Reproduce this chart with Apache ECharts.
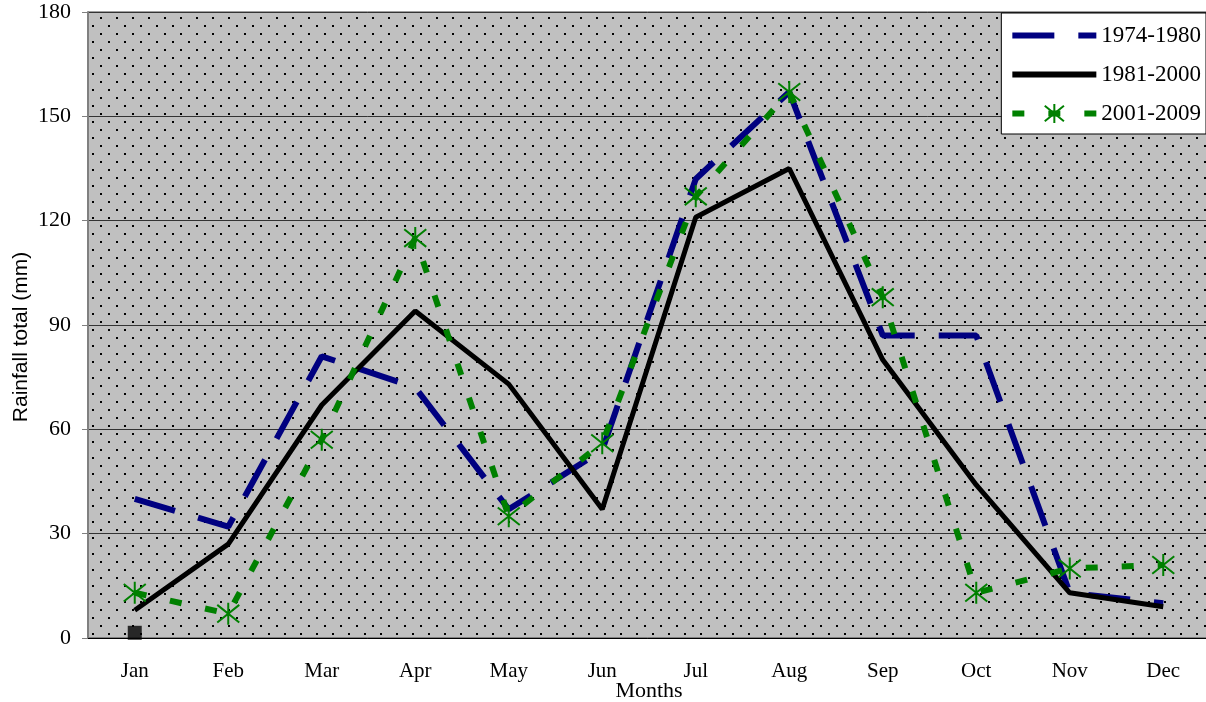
<!DOCTYPE html>
<html>
<head>
<meta charset="utf-8">
<script src="https://cdn.jsdelivr.net/npm/echarts@6/dist/echarts.min.js"></script>
<style>
  html, body { margin: 0; padding: 0; background: #fff; }
  #chart { width: 1206px; height: 702px; }
</style>
</head>
<body>
<div id="chart"></div>
<script>
const months = ["Jan", "Feb", "Mar", "Apr", "May", "Jun", "Jul", "Aug", "Sep", "Oct", "Nov", "Dec"];
const rain1974 = [40, 32, 81, 72, 37, 54, 132, 157, 87, 87, 13, 10];
const rain1981 = [8, 27, 67, 94, 73, 37, 121, 135, 80, 44, 13, 9];
const rain2001 = [13, 7, 57, 115, 35, 56, 127, 157, 98, 13, 20, 21];
const extraPoint = [1.5, null, null, null, null, null, null, null, null, null, null, null];

const serif = "Liberation Serif";
const starPath = "path://M0,-10L0,10M-8,-8L8,8M-8,8L8,-8";

// dotted plot area: grey with staggered black dots
function dotPattern() {
    const c = document.createElement("canvas");
    c.width = 16;
    c.height = 16;
    const ctx = c.getContext("2d");
    ctx.fillStyle = "#c0c0c0";
    ctx.fillRect(0, 0, 16, 16);
    ctx.fillStyle = "#000";
    ctx.fillRect(4, 1, 2, 2);
    ctx.fillRect(12, 9, 2, 2);
    return c;
}

const chart = echarts.init(document.getElementById("chart"));

chart.setOption({
    animation: false,
    grid: {
        left: 88,
        top: 12,
        right: -4,
        bottom: 64,
        outerBoundsMode: "none",
        containLabel: false,
        show: true,
        backgroundColor: { image: dotPattern(), repeat: "repeat" },
        borderColor: "#404040",
        borderWidth: 1
    },
    legend: {
        right: 0,
        top: 13,
        orient: "vertical",
        backgroundColor: "#fff",
        borderColor: "#000",
        borderWidth: 1,
        padding: [11, 5, 9, 8],
        itemWidth: 84,
        itemHeight: 24,
        itemGap: 16,
        lineStyle: { width: 6 },
        textStyle: { fontFamily: serif, fontSize: 23, color: "#000" },
        data: [
            { name: "1974-1980", itemStyle: { opacity: 0 } },
            { name: "1981-2000", itemStyle: { opacity: 0 } },
            { name: "2001-2009" }
        ]
    },
    xAxis: {
        type: "category",
        data: months,
        name: "Months",
        nameLocation: "middle",
        nameGap: 42,
        nameMoveOverlap: false,
        nameTextStyle: { fontFamily: serif, fontSize: 22, color: "#000" },
        axisLine: { lineStyle: { color: "#000", width: 1 } },
        axisTick: { length: 6, lineStyle: { color: "#000" } },
        axisLabel: { fontFamily: serif, fontSize: 21, color: "#000", margin: 23 }
    },
    yAxis: {
        type: "value",
        min: 0,
        max: 180,
        interval: 30,
        name: "Rainfall total (mm)",
        nameLocation: "middle",
        nameGap: 56,
        nameMoveOverlap: false,
        nameTextStyle: { fontFamily: "Liberation Sans", fontSize: 21, color: "#000", padding: [0, 24, 0, 0] },
        axisLine: { show: true, lineStyle: { color: "#808080", width: 2 } },
        axisTick: { show: true, length: 6, lineStyle: { color: "#808080" } },
        axisLabel: { fontFamily: serif, fontSize: 22, color: "#000", margin: 17 },
        splitLine: { lineStyle: { color: "#333", width: 1 } }
    },
    series: [
        {
            name: "1974-1980",
            type: "line",
            data: rain1974,
            symbol: "none",
            z: 3,
            itemStyle: { color: "#000080" },
            lineStyle: { color: "#000080", width: 6, type: [42, 24] }
        },
        {
            name: "1981-2000",
            type: "line",
            data: rain1981,
            symbol: "none",
            z: 4,
            itemStyle: { color: "#000" },
            lineStyle: { color: "#000", width: 5 }
        },
        {
            name: "2001-2009",
            type: "line",
            data: rain2001,
            symbol: starPath,
            symbolSize: 22,
            z: 5,
            itemStyle: { color: "#008000", borderColor: "#008000", borderWidth: 2 },
            lineStyle: { color: "#008000", width: 6, type: [12, 24] }
        },
        {
            name: "extra",
            type: "scatter",
            data: extraPoint,
            symbol: "rect",
            symbolSize: 14,
            z: 6,
            itemStyle: { color: "#000" }
        }
    ]
});
</script>
</body>
</html>
